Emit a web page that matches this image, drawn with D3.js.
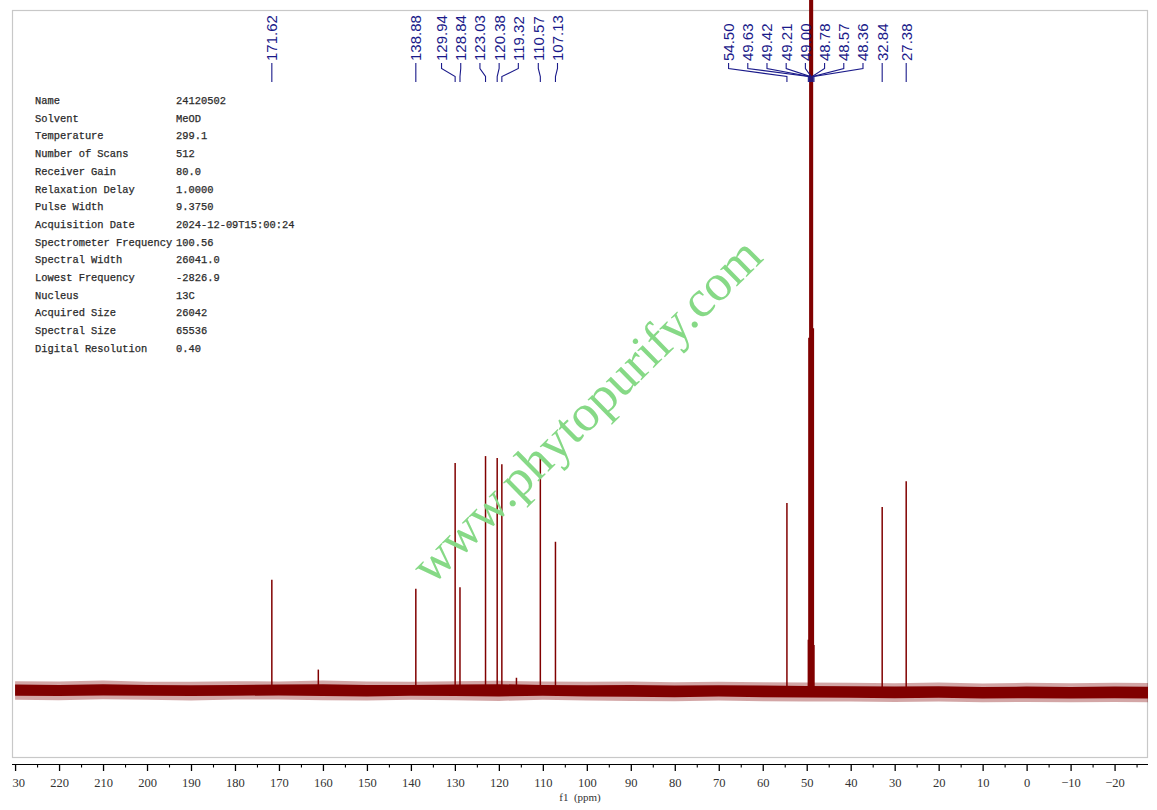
<!DOCTYPE html>
<html><head><meta charset="utf-8">
<script src="https://cdn.jsdelivr.net/npm/d3@7/dist/d3.min.js"></script>
<style>body{margin:0;background:#fff}svg{display:block}</style>
</head><body>
<svg id="c" width="1157" height="810"></svg>
<script>
// ---- data ----
const peakPpm    = [171.62, 161.05, 138.88, 129.94, 128.84, 123.03, 120.38, 119.32, 116.0, 110.57, 107.13, 54.50, 49.63, 49.42, 49.21, 49.00, 48.78, 48.57, 48.36, 32.84, 27.38];
const peakHeight = [16.2,   3.0,    14.9,   33.4,   15.1,   34.4,   34.1,   33.2,   1.8,   34.1,   21.8,   27.5,  7.4,   51.8,  103,   121,   103,   53.2,  6.6,   26.9,  30.7];
const labelPpm   = [171.62, 138.88, 129.94, 128.84, 123.03, 120.38, 119.32, 110.57, 107.13, 54.50, 49.63, 49.42, 49.21, 49.00, 48.78, 48.57, 48.36, 32.84, 27.38];
const noisePpm      = [230,220,210,200,190,180,170,160,150,140,130,120,110,100,90,80,70,60,50,40,30,20,10,0,-10,-20,-30];
const noiseCoreHi   = [0.8,0.75,0.85,0.75,0.7,0.75,0.8,0.85,0.75,0.75,0.8,0.85,0.75,0.7,0.75,0.65,0.7,0.65,0.6,0.55,0.5,0.55,0.45,0.5,0.45,0.5,0.45];
const noiseCoreLo   = [-0.85,-0.9,-0.8,-0.85,-0.9,-0.85,-0.8,-0.9,-0.95,-0.85,-0.9,-0.95,-0.85,-0.95,-1.0,-1.05,-0.95,-1.05,-1.1,-1.15,-1.2,-1.15,-1.25,-1.2,-1.25,-1.2,-1.25];
const noiseFringeHi = [1.3,1.25,1.4,1.2,1.2,1.3,1.25,1.4,1.25,1.2,1.3,1.35,1.25,1.2,1.25,1.15,1.2,1.15,1.1,1.05,1.0,1.1,0.95,1.05,1.0,1.05,1.0];
const noiseFringeLo = [-1.45,-1.5,-1.35,-1.45,-1.55,-1.4,-1.4,-1.5,-1.55,-1.45,-1.5,-1.6,-1.45,-1.55,-1.6,-1.65,-1.55,-1.65,-1.7,-1.7,-1.75,-1.7,-1.8,-1.75,-1.8,-1.75,-1.8];
const xTicksMajor = [230,220,210,200,190,180,170,160,150,140,130,120,110,100,90,80,70,60,50,40,30,20,10,0,-10,-20];
const xTicksMinor = [225,215,205,195,185,175,165,155,145,135,125,115,105,95,85,75,65,55,45,35,25,15,5,-5,-15,-25];
const paramNames  = ["Name","Solvent","Temperature","Number of Scans","Receiver Gain","Relaxation Delay","Pulse Width","Acquisition Date","Spectrometer Frequency","Spectral Width","Lowest Frequency","Nucleus","Acquired Size","Spectral Size","Digital Resolution"];
const paramValues = ["24120502","MeOD","299.1","512","80.0","1.0000","9.3750","2024-12-09T15:00:24","100.56","26041.0","-2826.9","13C","26042","65536","0.40"];
const watermark = "www.phytopurify.com";
const axisTitle = "f1 (ppm)";

// ---- layout ----
const W = 1157, H = 810;
const box = {l: 12, t: 10, r: 1148, b: 758};
const svg = d3.select("#c");
svg.append("rect").attr("width", W).attr("height", H).attr("fill", "#fff");

const x = d3.scaleLinear().domain([230.7, -27.6]).range([box.l, box.r]);
const y = d3.scaleLinear().domain([0, 100]).range([690, 10]);

const defs = svg.append("defs");
defs.append("clipPath").attr("id", "specClip").append("rect")
  .attr("x", box.l).attr("y", 0).attr("width", box.r - box.l).attr("height", box.b);
defs.append("clipPath").attr("id", "axClip").append("rect")
  .attr("x", box.l).attr("y", box.b).attr("width", W - box.l).attr("height", H - box.b);

// frame
svg.append("rect").attr("x", box.l + 0.5).attr("y", box.t + 0.5)
  .attr("width", box.r - box.l - 1).attr("height", box.b - box.t - 1)
  .attr("fill", "none").attr("stroke", "#c8c8c8").attr("stroke-width", 1.2);

// parameter table
const tbl = svg.append("g").attr("font-family", "'Liberation Mono', monospace")
  .attr("font-size", 10.4).attr("fill", "#2a2a2a").attr("stroke", "#2a2a2a").attr("stroke-width", 0.25);
paramNames.forEach((n, i) => {
  const yy = 104 + i * 17.7;
  tbl.append("text").attr("x", 35).attr("y", yy).text(n);
  tbl.append("text").attr("x", 176).attr("y", yy).text(paramValues[i]);
});

// spectrum
const spec = svg.append("g").attr("clip-path", "url(#specClip)");
const noise = noisePpm.map((p, i) => ({p, ch: noiseCoreHi[i], cl: noiseCoreLo[i], fh: noiseFringeHi[i], fl: noiseFringeLo[i]}));
spec.append("path").datum(noise)
  .attr("d", d3.area().x(d => x(d.p)).y0(d => y(d.fl)).y1(d => y(d.fh)))
  .attr("fill", "#800000").attr("opacity", 0.35);
spec.append("path").datum(noise)
  .attr("d", d3.area().x(d => x(d.p)).y0(d => y(d.cl)).y1(d => y(d.ch)))
  .attr("fill", "#800000");
spec.selectAll("line.pk").data(peakPpm.map((p, i) => ({p, h: peakHeight[i]})))
  .enter().append("line").attr("class", "pk")
  .attr("x1", d => x(d.p)).attr("x2", d => x(d.p))
  .attr("y1", y(0)).attr("y2", d => y(d.h))
  .attr("stroke", "#800000").attr("stroke-width", d => d.h > 45 ? 2.2 : 1.5);

// watermark
svg.append("text")
  .attr("transform", "translate(586,410) rotate(-44.5)")
  .attr("text-anchor", "middle").attr("dominant-baseline", "central")
  .attr("font-family", "'Liberation Serif', serif").attr("font-size", 52)
  .attr("fill", "#86d986").text(watermark);

// axis
const axG = svg.append("g").attr("clip-path", "url(#axClip)");
const axisY = 764;
axG.append("line").attr("x1", box.l).attr("x2", box.r).attr("y1", axisY + 0.5).attr("y2", axisY + 0.5)
  .attr("stroke", "#000").attr("stroke-width", 1.2);
const major = axG.append("g").attr("transform", `translate(0,${axisY})`)
  .call(d3.axisBottom(x).tickValues(xTicksMajor).tickSize(7).tickSizeOuter(0).tickFormat(d => String(d)));
major.select(".domain").remove();
major.selectAll(".tick line").attr("stroke", "#000").attr("stroke-width", 1.3);
major.selectAll(".tick text").attr("font-family", "'Liberation Serif', serif").attr("font-size", 12.5)
  .attr("fill", "#333").attr("dy", "1.05em").text(d => d < 0 ? "\u2212" + Math.abs(d) : d);
const minor = axG.append("g").attr("transform", `translate(0,${axisY})`)
  .call(d3.axisBottom(x).tickValues(xTicksMinor).tickSize(3.5).tickSizeOuter(0).tickFormat(""));
minor.select(".domain").remove();
minor.selectAll(".tick line").attr("stroke", "#000").attr("stroke-width", 1.1);
svg.append("text").attr("x", 580).attr("y", 801).attr("text-anchor", "middle")
  .attr("font-family", "'Liberation Serif', serif").attr("font-size", 11).attr("fill", "#333")
  .attr("xml:space", "preserve").text(axisTitle.replace(" ", "  "));

// peak label layout: crowded labels are spread in blocks centred on their peaks;
// an isolated label to the right of a block holds its place and pushes the block left.
const gap = 19.2;
const labs = labelPpm.map(p => ({p, d: x(p)})).sort((a, b) => a.d - b.d);
labs.forEach((l, i) => {
  const prev = labs[i - 1], next = labs[i + 1];
  l.iso = (!prev || l.d - prev.d >= gap) && (!next || next.d - l.d >= gap);
});
let blocks = labs.map(l => ({items: [l], start: l.d}));
const endOf = b => b.start + (b.items.length - 1) * gap;
const centre = b => { b.start = d3.mean(b.items, d => d.d) - (b.items.length - 1) * gap / 2; };
for (let iter = 0; iter < 200; iter++) {
  let changed = false;
  for (let i = 0; i < blocks.length - 1; i++) {
    const a = blocks[i], b = blocks[i + 1];
    if (b.start - endOf(a) < gap - 0.01) {
      changed = true;
      const bFixed = b.items.length === 1 && b.items[0].iso;
      const aPrev = blocks[i - 1];
      const shifted = b.start - gap - (a.items.length - 1) * gap;
      if (bFixed && (!aPrev || shifted - endOf(aPrev) >= gap - 0.01)) {
        a.start = shifted;
      } else {
        a.items = a.items.concat(b.items); centre(a); blocks.splice(i + 1, 1);
      }
      break;
    }
  }
  if (!changed) break;
}
blocks.forEach(b => b.items.forEach((l, k) => { l.lx = b.start + k * gap; }));

const lblG = svg.append("g");
const navy = "#1a1a8a";
lblG.selectAll("path").data(labs).enter().append("path")
  .attr("d", l => `M${l.lx},63 V68.5 L${l.d},76.5 V82`)
  .attr("fill", "none").attr("stroke", navy).attr("stroke-width", 1.1);
lblG.selectAll("text").data(labs).enter().append("text")
  .attr("transform", l => `translate(${l.lx},61) rotate(-90)`)
  .attr("dy", "0.36em").attr("text-anchor", "start")
  .attr("font-family", "'Liberation Sans', Arial, sans-serif").attr("font-size", 15)
  .attr("fill", navy).text(l => l.p.toFixed(2));
</script>
</body></html>
